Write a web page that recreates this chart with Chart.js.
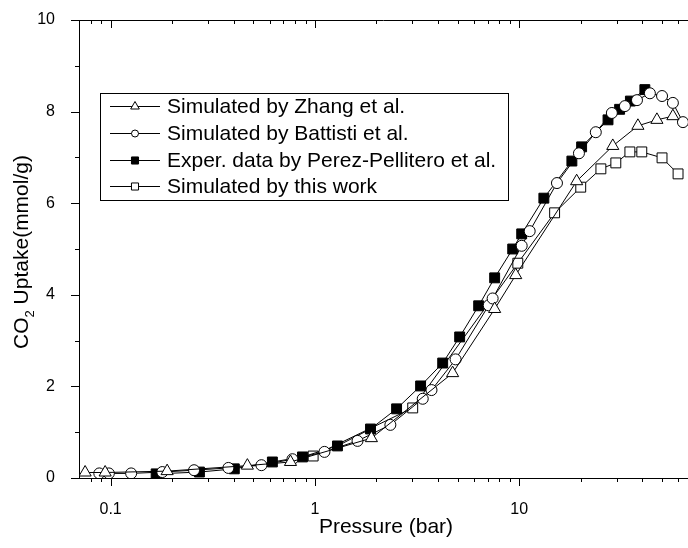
<!DOCTYPE html>
<html>
<head>
<meta charset="utf-8">
<script src="https://cdn.jsdelivr.net/npm/chart.js@4.4.0/dist/chart.umd.min.js"></script>
<style>
    html, body { margin: 0; padding: 0; background: #fff; }
</style>
</head>
<body>
<canvas id="uptakeChart" width="688" height="548"></canvas>
<script>
// Sample data
const pressureZhang = [0.075, 0.094, 0.189, 0.467, 0.759, 1.89, 4.72, 7.58, 9.61, 19.1, 28.7, 38.1, 47.2, 56.5];
const uptakeZhang = [0.12, 0.12, 0.15, 0.27, 0.35, 0.87, 2.29, 3.69, 4.43, 6.48, 7.25, 7.69, 7.82, 7.90];

const pressureBattisti = [0.088, 0.098, 0.126, 0.179, 0.256, 0.377, 0.547, 0.776, 1.113, 1.616, 2.34, 3.37, 3.72, 4.88, 7.09, 7.41, 10.28, 11.25, 15.3, 19.6, 23.7, 28.4, 32.9, 37.7, 43.6, 50.0, 56.5, 63.3];
const uptakeBattisti = [0.10, 0.10, 0.10, 0.13, 0.17, 0.22, 0.28, 0.41, 0.57, 0.81, 1.16, 1.73, 1.92, 2.59, 3.77, 3.92, 5.07, 5.39, 6.44, 7.09, 7.55, 7.97, 8.12, 8.25, 8.40, 8.34, 8.19, 7.77];

const pressureExper = [0.167, 0.272, 0.403, 0.619, 0.869, 1.289, 1.871, 2.51, 3.29, 4.22, 5.11, 6.33, 7.58, 9.29, 10.28, 13.2, 18.1, 20.2, 27.2, 31.0, 35.0, 41.2];
const uptakeExper = [0.09, 0.13, 0.20, 0.35, 0.46, 0.70, 1.07, 1.51, 2.01, 2.51, 3.08, 3.76, 4.37, 5.00, 5.33, 6.11, 6.92, 7.23, 7.82, 8.05, 8.23, 8.48];

const pressureThisWork = [0.98, 3.01, 9.84, 14.9, 20.0, 25.1, 29.7, 34.8, 39.8, 50.0, 59.9];
const uptakeThisWork = [0.48, 1.53, 4.69, 5.79, 6.35, 6.75, 6.88, 7.12, 7.12, 6.99, 6.64];

const seriesLabels = [
    'Simulated by Zhang et al.',
    'Simulated by Battisti et al.',
    'Exper. data by Perez-Pellitero et al.',
    'Simulated by this work'
];

const xTickLabels = [0.1, 1, 10];
const xTickMarks = [0.08, 0.09, 0.1, 0.2, 0.3, 0.4, 0.5, 0.6, 0.7, 0.8, 0.9, 1, 2, 3, 4, 5, 6, 7, 8, 9, 10, 20, 30, 40, 50, 60];
const yTickMarks = [0, 1, 2, 3, 4, 5, 6, 7, 8, 9, 10];

const FONT = 'Arial, "Liberation Sans", sans-serif';

function toPoints(xs, ys) {
    return xs.map((x, i) => ({ x: x, y: ys[i] }));
}

function makeSeries(label, xs, ys, style, radius, fill) {
    return {
        label: label,
        data: toPoints(xs, ys),
        borderColor: '#000',
        borderWidth: 1,
        backgroundColor: fill,
        pointStyle: style,
        pointRadius: radius,
        pointBorderWidth: 1,
        pointBorderColor: '#000',
        pointBackgroundColor: fill,
        tension: 0,
        fill: false
    };
}

const datasets = [
    makeSeries(seriesLabels[0], pressureZhang, uptakeZhang, 'triangle', 7, '#fff'),
    makeSeries(seriesLabels[1], pressureBattisti, uptakeBattisti, 'circle', 5.5, '#fff'),
    makeSeries(seriesLabels[2], pressureExper, uptakeExper, 'rect', 7, '#000'),
    makeSeries(seriesLabels[3], pressureThisWork, uptakeThisWork, 'rect', 7, '#fff')
];

// ticks, titles and the boxed legend
const decorPlugin = {
    id: 'decor',
    afterDraw(chart) {
        const ctx = chart.ctx;
        const xs = chart.scales.x;
        const ys = chart.scales.y;
        const a = chart.chartArea;
        ctx.save();
        ctx.strokeStyle = '#000';
        ctx.lineWidth = 1;
        ctx.beginPath();
        ctx.moveTo(a.left, a.top + 0.5);
        ctx.lineTo(a.right, a.top + 0.5);
        xTickMarks.forEach(v => {
            const p = Math.round(xs.getPixelForValue(v)) + 0.5;
            const len = xTickLabels.includes(v) ? 8 : 4;
            ctx.moveTo(p, a.bottom);
            ctx.lineTo(p, a.bottom + len);
            ctx.moveTo(p, a.top);
            ctx.lineTo(p, a.top + len);
        });
        yTickMarks.forEach(v => {
            const p = Math.round(ys.getPixelForValue(v)) + 0.5;
            const len = v % 2 === 0 ? 8 : 4;
            ctx.moveTo(a.left, p);
            ctx.lineTo(a.left - len, p);
        });
        ctx.stroke();

        // x title
        ctx.fillStyle = '#000';
        ctx.font = '21px ' + FONT;
        ctx.textAlign = 'center';
        ctx.textBaseline = 'middle';
        ctx.fillText('Pressure (bar)', 386, 527);

        // y title with subscript
        ctx.save();
        ctx.translate(22, 252);
        ctx.rotate(-Math.PI / 2);
        ctx.textAlign = 'left';
        ctx.textBaseline = 'middle';
        ctx.font = '21px ' + FONT;
        const w1 = ctx.measureText('CO').width;
        const w3 = ctx.measureText(' Uptake(mmol/g)').width;
        ctx.font = '13px ' + FONT;
        const w2 = ctx.measureText('2').width;
        let x0 = -(w1 + w2 + w3) / 2;
        ctx.font = '21px ' + FONT;
        ctx.fillText('CO', x0, 0);
        ctx.font = '13px ' + FONT;
        ctx.fillText('2', x0 + w1, 8);
        ctx.font = '21px ' + FONT;
        ctx.fillText(' Uptake(mmol/g)', x0 + w1 + w2, 0);
        ctx.restore();

        // legend box
        const box = { left: 100.5, top: 93.5, right: 508.5, bottom: 200.5 };
        ctx.fillStyle = '#fff';
        ctx.fillRect(box.left, box.top, box.right - box.left, box.bottom - box.top);
        ctx.strokeRect(box.left, box.top, box.right - box.left, box.bottom - box.top);
        const rows = [106, 133, 160, 186];
        chart.data.datasets.forEach((ds, i) => {
            const y = rows[i];
            ctx.beginPath();
            ctx.moveTo(110, y + 0.5);
            ctx.lineTo(160, y + 0.5);
            ctx.stroke();
            ctx.fillStyle = ds.pointBackgroundColor;
            ctx.strokeStyle = '#000';
            Chart.helpers.drawPoint(ctx, {
                pointStyle: ds.pointStyle,
                radius: ds.pointStyle === 'circle' ? 3.5 : 5,
                borderWidth: 1,
                rotation: 0
            }, 135, y + 0.5);
            ctx.fillStyle = '#000';
            ctx.font = '21px ' + FONT;
            ctx.textAlign = 'left';
            ctx.textBaseline = 'middle';
            ctx.fillText(ds.label, 167, y + 1);
        });
        ctx.restore();
    }
};

new Chart(document.getElementById('uptakeChart'), {
    type: 'line',
    data: { datasets: datasets },
    options: {
        responsive: false,
        animation: false,
        devicePixelRatio: 1,
        layout: { autoPadding: false, padding: { top: 20, right: 0, left: 0, bottom: 0 } },
        plugins: {
            legend: { display: false },
            tooltip: { enabled: false }
        },
        scales: {
            x: {
                type: 'logarithmic',
                min: 0.07,
                max: 67,
                grid: { display: false },
                border: { display: true, color: '#000', width: 1 },
                afterBuildTicks: scale => {
                    scale.ticks = xTickLabels.map(v => ({ value: v }));
                },
                afterFit: scale => { scale.height = 70; },
                ticks: {
                    autoSkip: false,
                    maxRotation: 0,
                    color: '#000',
                    padding: 14,
                    font: { size: 16, family: FONT },
                    callback: v => String(v)
                }
            },
            y: {
                min: 0,
                max: 10,
                grid: { display: false },
                border: { display: true, color: '#000', width: 1 },
                afterFit: scale => {
                    scale.width = 79;
                    scale.paddingTop = 0;
                    scale.paddingBottom = 0;
                },
                ticks: {
                    stepSize: 2,
                    color: '#000',
                    padding: 16,
                    font: { size: 16, family: FONT }
                }
            }
        }
    },
    plugins: [decorPlugin]
});
</script>
</body>
</html>
